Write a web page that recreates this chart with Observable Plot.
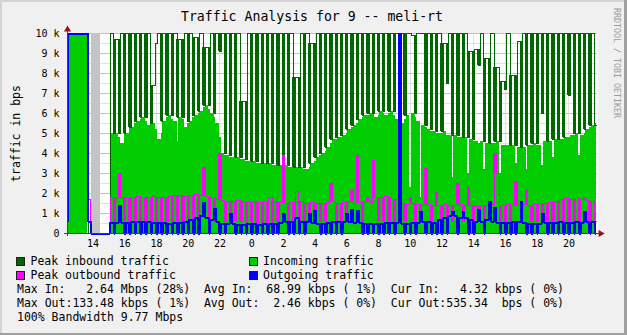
<!DOCTYPE html>
<html><head><meta charset="utf-8">
<script src="https://cdn.jsdelivr.net/npm/d3@7"></script>
<script src="https://cdn.jsdelivr.net/npm/@observablehq/plot@0.6"></script>
<style>
html,body{margin:0;padding:0;background:#f0f0f0;}
#wrap{position:relative;width:627px;height:335px;overflow:hidden;background:#f0f0f0;font-family:"DejaVu Sans Mono",monospace;color:#000;}
#wrap svg{position:absolute;left:0;top:0;}
.t{position:absolute;white-space:pre;font-size:11.5px;line-height:14px;}
.sq{position:absolute;width:7px;height:7px;border:1px solid #222;}
.b{position:absolute;}
</style></head><body><div id="wrap"></div>
<script>
// ---------- text ----------
const title = "Traffic Analysis for 9 -- meli-rt";
const yLabel = "traffic in bps";
const sideText = "RRDTOOL / TOBI OETIKER";
const yTicks = [0,1,2,3,4,5,6,7,8,9,10];
const yTickLabels = ["0","1 k","2 k","3 k","4 k","5 k","6 k","7 k","8 k","9 k","10 k"];
const xTicks = [14,16,18,20,22,24,26,28,30,32,34,36,38,40,42,44];
const xTickLabels = ["14","16","18","20","22","0","2","4","6","8","10","12","14","16","18","20"];
const legendNames = ["Peak inbound traffic","Incoming traffic","Peak outbound traffic","Outgoing traffic"];
const legendColors = ["#006600","#00cc00","#ff00ff","#0000ff"];
const statLines = [
 "Max In:   2.64 Mbps (28%)  Avg In:  68.99 kbps ( 1%)  Cur In:   4.32 kbps ( 0%)",
 "Max Out:133.48 kbps ( 1%)  Avg Out:  2.46 kbps ( 0%)  Cur Out:535.34  bps ( 0%)",
 "100% Bandwidth 9.77 Mbps"
];

// ---------- data (hours on x, thousands of bps on y) ----------
const xDomain = [12.39, 45.8];
const unknownSpans = [{a: 13.9, b: 14.47, v: 10}];
// leading samples: saturated block, then gap
const leadT    = [12.39, 12.45, 13.66, 13.72, 13.85];
const leadIn   = [0, 12, 0, 0, 0];
const leadPin  = [2.2, 12, 9.6, 0, 0];
const leadOut  = [0.6, 12, 0.6, 0.6, 0];
const leadPout = [2.2, 12, 1.7, 1.7, 0];
// regular samples: each period = main part + short dip part
const periodStart = 15.07;
const periodLen = 1/3;
const inc = [5.0,5.0,4.5,5.0,5.3, 5.6,5.8,5.4,5.5,4.7, 5.6,5.9,5.6,5.8,5.3, 5.6,5.9,6.1,6.4,6.0,
 5.5,4.0,3.9,3.8,3.8, 3.7,3.6,3.6,3.5,3.5, 3.5,3.4,3.4,3.4,3.3, 3.3,3.3,3.2,3.5,3.8,
 4.0,4.3,4.7,4.8,4.9, 5.2,5.4,5.7,5.9,6.0, 5.8,6.1,5.9,6.1,5.7, 5.5,5.9,6.0,5.6,5.4,
 5.2,5.1,5.0,5.1,4.9, 4.9,4.8,4.8,4.7,4.6, 4.6,4.5,4.5,4.6,4.4, 4.4,4.4,4.3,4.3,4.4,
 4.5,4.4,4.6,4.6,4.7, 4.7,4.8,4.9,5.0,4.9, 5.2,5.4];
const incDip = [5.0,4.8,5.0,5.3,5.5, 5.7,5.6,5.5,5.2,5.0, 5.8,5.7,4.6,5.7,5.5, 5.8,6.0,6.3,6.2,5.8,
 4.8,3.9,3.8,3.8,3.7, 3.6,3.6,3.5,3.5,3.5, 3.4,3.4,3.4,3.3,3.3, 3.3,3.2,3.3,3.6,3.9,
 4.1,4.5,4.7,4.8,5.0, 5.3,5.5,5.8,5.9,6.0, 5.9,6.0,6.0,5.9,5.6, 5.7,2.3,5.8,1.8,5.3,
 5.1,5.0,5.0,4.9,2.8, 4.8,4.8,3.0,4.6,4.5, 3.2,4.5,4.5,3.0,4.4, 4.4,3.5,4.3,3.2,4.4,
 4.4,3.4,4.6,3.8,4.7, 4.7,4.8,4.9,3.9,5.0, 5.3,5.5];
const pinMain = [12,9.7,12,12,12, 12,12,12,7.4,12, 12,12,12,9.7,12, 12,9.8,12,9.3,12,
 12,12,12,12,12, 6.6,12,12,12,12, 12,12,12,12,12, 7.8,12,12,9.5,12,
 12,12,12,12,12, 12,12,12,12,12, 12,12,12,12,12, 12,12,9.9,12,12,
 12,12,12,9.5,12, 12,12,12,9.1,9.2, 12,8.75,12,8.3,7.6, 12,7.9,9.6,12,12,
 12,12,12,12,12, 12,12,12,12,12, 12,12];
const pinDip = [5.0,5.0,5.0,5.3,5.6, 5.8,5.8,5.5,9.5,5.6, 5.9,5.9,5.8,5.8,5.6, 5.9,6.1,6.4,6.4,6.0,
 9.1,4.0,3.9,3.8,3.8, 3.7,3.6,3.6,3.5,3.5, 3.5,3.4,3.4,3.4,3.3, 3.3,3.3,3.5,3.8,4.0,
 4.3,4.7,4.8,4.9,5.2, 5.4,5.7,5.9,6.0,6.0, 6.1,6.1,6.1,6.1,5.7, 5.9,12,6.0,12,5.4,
 5.2,5.1,5.1,7.5,4.9, 4.9,4.8,4.8,4.7,8.4, 4.6,4.5,4.6,4.6,7.2, 4.4,4.4,4.3,4.4,4.5,
 4.5,6.0,4.6,4.7,4.7, 4.8,6.9,5.0,5.0,5.2, 5.4,5.4];
const outMain = [0.55,0.55,0.55,0.55,0.6, 0.6,0.6,0.6,0.55,0.55, 0.55,0.5,0.55,0.55,0.6, 0.7,0.8,0.9,0.8,0.7,
 0.6,0.5,0.5,0.5,0.45, 0.45,0.5,0.5,0.45,0.5, 0.5,0.5,0.55,0.6,0.6, 0.8,0.6,0.6,0.55,0.5,
 0.5,0.55,0.6,0.6,0.6, 0.6,0.55,0.55,0.5,0.5, 0.5,0.5,0.55,0.55,0.55, 0.5,0.5,0.55,0.55,0.6,
 0.6,0.55,0.7,0.8,0.9, 0.9,0.8,0.8,0.7,0.6, 0.6,0.7,0.6,0.55,0.55, 0.55,0.6,0.6,0.55,0.5,
 0.5,0.5,0.55,0.55,0.55, 0.6,0.55,0.55,0.6,0.55, 0.6,0.6];
const outDip = [0,1.4,0,0,0, 0,0,0,0,0, 0,0,0,0,0, 0,0,1.55,0,1.25,
 0,0,1.0,0,0, 0,0,0,0,0, 0,0,1.0,0,0, 0,0,1.0,1.15,0,
 0,0,0,0,1.0, 1.2,1.15,0,0,0, 0,0,0,0,12, 0,0,0,1.1,0,
 0,0,0,0,1.1, 0,1.1,0,0,1.2, 0,1.6,1.3,0,0, 0,0,1.6,0,0,
 0,1.0,0,0,0, 0,0,0,0,1.1, 0,0];
const poutMain = [1.8,1.8,1.8,1.75,1.8, 1.85,1.8,1.8,1.9,1.8, 1.8,1.85,1.9,1.9,1.85, 1.9,1.95,1.9,1.85,1.8,
 1.7,1.65,1.6,1.6,1.65, 1.6,1.55,1.6,1.55,1.55, 1.8,1.6,1.55,1.5,1.55, 2.1,1.6,1.5,1.55,1.5,
 1.5,1.55,1.6,1.5,1.55, 1.6,1.5,1.55,1.6,1.55, 1.8,1.8,1.85,1.8,1.7, 1.5,1.45,1.5,1.45,1.4,
 1.45,1.4,1.4,1.45,1.4, 1.4,1.45,1.4,1.4,1.35, 1.4,1.4,1.45,3.0,1.4, 1.45,1.4,1.4,1.45,1.4,
 1.45,1.5,1.5,1.55,1.6, 1.7,1.75,1.7,1.8,1.7, 1.65,1.6];
const poutDip = [0.6,3.0,0.6,0.6,0.6, 0.6,0.6,0.6,0.6,0.6, 0.6,0.6,0.6,0.6,0.6, 0.6,0.6,3.3,0.6,0.6,
 4.0,0.6,0.6,0.6,0.6, 0.55,0.55,0.55,0.55,0.55, 0.55,0.55,3.9,0.6,0.6, 0.6,0.6,0.6,0.6,0.6,
 0.6,2.5,0.6,0.6,0.6, 2.15,3.9,0.6,1.8,3.65, 0.6,0.6,0.6,0.6,0.6, 0.6,1.8,0.6,0.6,3.25,
 0.6,2.05,0.6,0.6,0.6, 2.5,0.6,2.3,0.6,0.6, 0.6,0.6,4.0,0.6,0.6, 0.6,2.6,0.6,2.2,0.6,
 0.6,0.6,0.6,0.6,0.6, 0.6,0.6,0.6,0.6,1.8, 0.6,0.6];

// ---------- build samples ----------
const DIP_FRAC = 0.68; // where in each period the dip part starts
const samples = [];
leadT.forEach((t, j) => samples.push({t, t2: j < leadT.length - 1 ? leadT[j+1] : periodStart,
  inc: leadIn[j], pin: leadPin[j], out: leadOut[j], pout: leadPout[j], dip: false}));
inc.forEach((v, k) => {
  const tN = periodStart + k * periodLen, tD = tN + periodLen * DIP_FRAC;
  samples.push({t: tN, t2: tD, inc: v, pin: pinMain[k], out: outMain[k], pout: poutMain[k], dip: false});
  samples.push({t: tD, t2: tN + periodLen, inc: incDip[k], pin: pinDip[k], out: outDip[k], pout: poutDip[k], dip: true});
});
const clampTop = v => Math.min(v, 10);
function stepPts(key) {
  const a = samples.map(d => ({t: d.t, v: clampTop(d[key])}));
  const last = samples[samples.length - 1];
  a.push({t: last.t2, v: clampTop(last[key])});
  return a;
}
// a one-sample notch is drawn solid (as the narrow original samples look)
function notchRects(key) {
  const r = [];
  for (let j = 1; j < samples.length - 1; j++) {
    const d = samples[j]; if (!d.dip) continue;
    const v = clampTop(d[key]), a = clampTop(samples[j-1][key]), b = clampTop(samples[j+1][key]);
    if (v < Math.min(a, b)) r.push({t: d.t, t2: d.t2, y1: v, y2: Math.min(a, b)});
    else if (v > Math.max(a, b)) r.push({t: d.t, t2: d.t2, y1: Math.max(a, b), y2: v});
  }
  return r;
}

const minorY = d3.range(0.5, 10, 1);
const crisp = "crispEdges";
const notchOpts = (fill) => ({x1: "t", x2: "t2", y1: "y1", y2: "y2", fill, insetLeft: -0.6, insetRight: -0.6, shapeRendering: crisp});

const chart = Plot.plot({
  width: 627, height: 335,
  marginLeft: 67, marginRight: 30, marginTop: 33, marginBottom: 102,
  x: {domain: xDomain, axis: null},
  y: {domain: [0, 10], axis: null},
  style: {background: "transparent", fontFamily: "DejaVu Sans Mono, monospace", color: "#000"},
  marks: [
    Plot.frame({fill: "#ffffff", stroke: null}),
    Plot.ruleY(minorY, {stroke: "#e0e0e0", shapeRendering: crisp}),
    Plot.ruleX(xTicks, {stroke: "#e0e0e0", shapeRendering: crisp}),
    Plot.ruleY(yTicks.slice(1), {stroke: "#eeb0b0", shapeRendering: crisp}),
    Plot.rectY(unknownSpans, {x1: "a", x2: "b", y: "v", fill: "#c4c4c4", shapeRendering: crisp}),
    Plot.areaY(stepPts("inc"), {x: "t", y: "v", curve: "step-after", fill: "#00cc00", shapeRendering: crisp}),
    Plot.rect(notchRects("pin"), notchOpts("#006600")),
    Plot.line(stepPts("pin"), {x: "t", y: "v", curve: "step-after", stroke: "#006600", strokeWidth: 1, shapeRendering: crisp}),
    Plot.rect(notchRects("pout"), notchOpts("#ff00ff")),
    Plot.line(stepPts("pout"), {x: "t", y: "v", curve: "step-after", stroke: "#ff00ff", strokeWidth: 1, shapeRendering: crisp}),
    Plot.rect(notchRects("out"), notchOpts("#0000ff")),
    Plot.line(stepPts("out"), {x: "t", y: "v", curve: "step-after", stroke: "#0000ff", strokeWidth: 2, shapeRendering: crisp}),
    Plot.ruleY([0], {stroke: "#444", x1: xDomain[0] - 0.2, x2: xDomain[1] + 0.15, shapeRendering: crisp}),
    Plot.ruleX([xDomain[0]], {stroke: "#444", y1: -0.15, y2: 10.2, shapeRendering: crisp}),
    Plot.dot([[xDomain[0], 10.2]], {x: d => d[0], y: d => d[1], symbol: "triangle", r: 2.6, fill: "#a01010", stroke: null}),
    Plot.dot([[xDomain[1] + 0.2, 0]], {x: d => d[0], y: d => d[1], symbol: "triangle", rotate: 90, r: 2.6, fill: "#a01010", stroke: null}),
    Plot.text(yTicks, {x: xDomain[0], y: d => d, text: (d, i) => yTickLabels[i], textAnchor: "end", dx: -8, fontSize: 10}),
    Plot.text(xTicks, {x: d => d, y: 0, text: (d, i) => xTickLabels[i], dy: 10, fontSize: 10}),
    Plot.text([yLabel], {frameAnchor: "left", textAnchor: "middle", dx: -51, rotate: -90, fontSize: 11.5})
  ]
});
const wrap = document.getElementById("wrap");
wrap.appendChild(chart);

function addText(txt, left, top, extra) {
  const d = document.createElement("div");
  d.className = "t"; d.textContent = txt;
  d.style.left = left + "px"; d.style.top = top + "px";
  if (extra) Object.assign(d.style, extra);
  wrap.appendChild(d);
}
addText(title, 0, 9, {width: "624px", textAlign: "center", fontSize: "13.2px", lineHeight: "16px"});
addText(sideText, 612, 8, {writingMode: "vertical-rl", fontSize: "8.3px", lineHeight: "10px", color: "#999999"});
legendNames.forEach((name, i) => {
  const col = i % 2, row = Math.floor(i / 2);
  const top = 254 + row * 14;
  const sq = document.createElement("div");
  sq.className = "sq"; sq.style.background = legendColors[i];
  sq.style.left = (col ? 249 : 16) + "px"; sq.style.top = (top + 3) + "px";
  wrap.appendChild(sq);
  addText(name, col ? 263 : 30.5, top);
});
statLines.forEach((s, i) => addText(s, 17, 282 + i * 14));

// border
[["0px","0px","627px","2px","#d4d4d4"],["0px","0px","2px","335px","#d4d4d4"],
 ["624px","0px","3px","335px","#a0a0a0"],["0px","333px","627px","2px","#a0a0a0"]].forEach(b => {
  const d = document.createElement("div"); d.className = "b";
  d.style.left = b[0]; d.style.top = b[1]; d.style.width = b[2]; d.style.height = b[3]; d.style.background = b[4];
  wrap.appendChild(d);
});
</script></body></html>
